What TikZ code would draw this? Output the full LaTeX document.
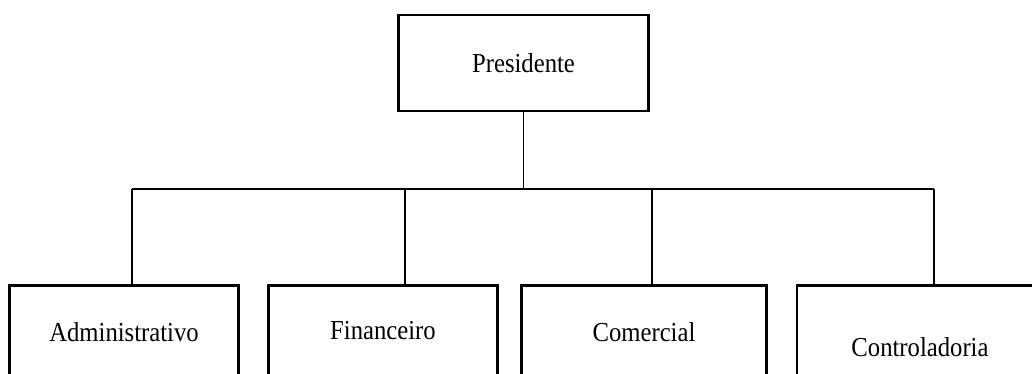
\documentclass[tikz,border=0pt]{standalone}
\usepackage{fontspec}
\setmainfont{Liberation Serif}[FakeStretch=0.9]
\usepackage{tikz}
\usetikzlibrary{calc}

\tikzset{
  unitbox/.style={draw,line width=2.1pt,inner sep=0pt,font=\fontsize{19.5}{22}\selectfont},
  link/.style={line width=1.4pt}
}

\begin{document}
\begin{tikzpicture}[x=0.025cm,y=-0.025cm]
\clip (0,0) rectangle (1032,374);
% top
\node[unitbox,minimum width=6.225cm,minimum height=2.4cm] (pres) at (523.5,63) {Presidente};
% departments
\node[unitbox,anchor=north,minimum width=5.7cm,minimum height=2.35cm] (adm) at (124,284) {Administrativo};
\node[unitbox,anchor=north,minimum width=5.7cm,minimum height=2.25cm] (fin) at (383,284) {Financeiro};
\node[unitbox,anchor=north,minimum width=6.1cm,minimum height=2.35cm] (com) at (644,284) {Comercial};
\node[unitbox,anchor=north,minimum width=6.15cm,minimum height=3.1cm] (ctl) at (920,284) {Controladoria};
% branch points
\coordinate (jadm) at (132,189);
\coordinate (jfin) at (405,189);
\coordinate (jcom) at (652,189);
\coordinate (jctl) at (934,189);
\draw[link] (pres.south) -- (pres.south |- jadm);
\draw[link] (jadm) -- (jctl);
\draw[link] (jadm) -- (jadm |- adm.north);
\draw[link] (jfin) -- (jfin |- fin.north);
\draw[link] (jcom) -- (jcom |- com.north);
\draw[link] (jctl) -- (jctl |- ctl.north);
\end{tikzpicture}
\end{document}
